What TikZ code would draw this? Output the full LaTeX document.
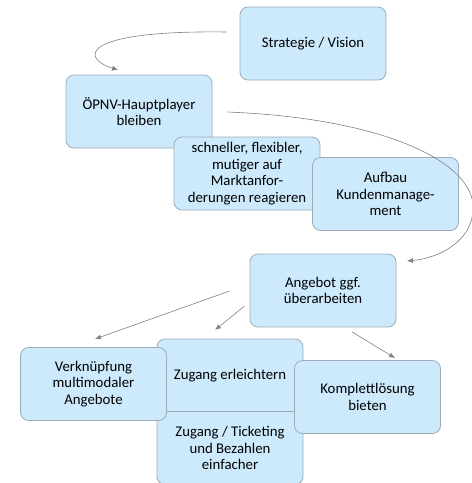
\documentclass[tikz,border=0pt]{standalone}
\usepackage{fontspec}
\setmainfont{Carlito}
\usepackage{xcolor}
\usetikzlibrary{shapes,arrows.meta,positioning,calc}

\definecolor{boxfill}{RGB}{204,234,252}
\definecolor{boxline}{RGB}{158,172,184}
\definecolor{arrowgray}{RGB}{128,128,128}

\begin{document}
\begin{tikzpicture}[x=1pt, y=-1pt,
    block/.style={rectangle, rounded corners=8pt, draw=boxline, line width=0.8pt, fill=boxfill, minimum width=146pt, minimum height=73pt, inner sep=0pt, align=center, font=\fontsize{14.8}{16.7}\selectfont},
    arrow/.style={-{Latex[length=6pt,width=5pt]}, draw=arrowgray, line width=0.6pt}
]
\useasboundingbox (0,0) rectangle (472,483);

% Upper part
\node[block] (strategie) at (313, 43.5) {Strategie / Vision};
\node[block] (oepnv) at (139, 111.5) {ÖPNV-Hauptplayer \\ bleiben};
\node[block] (schneller) at (247, 173.5) {schneller, flexibler, \\ mutiger auf \\ Marktanfor- \\ derungen reagieren};
\node[block] (aufbau) at (385.5, 194) {Aufbau \\ Kundenmanage- \\ ment};

% Offer
\node[block] (angebot) at (323, 290.5) {Angebot ggf. \\ überarbeiten};

% Lower part
\node[block] (zugang) at (230, 375.5) {Zugang erleichtern};
\node[block] (ticketing) at (230, 448) {Zugang / Ticketing \\ und Bezahlen \\ einfacher};
\node[block] (verknuepfung) at (93.5, 384) {Verknüpfung \\ multimodaler \\ Angebote};
\node[block] (komplett) at (367.5, 397) {Komplettlösung \\ bieten};

% Arrows
\coordinate (oepnvin) at (118, 70);
\coordinate (angebotin) at (407, 261);
\coordinate (verkin) at (95, 339);
\coordinate (zugangin) at (215, 330);
\coordinate (komplettin) at (395, 358);
\draw[arrow] ($(strategie.west)+(-13,-11.5)$) .. controls (80,30) and (80,58) .. (oepnvin);
\draw[arrow] ($(oepnv.east)+(15,0.5)$) .. controls (380,118) and (470,160) .. (473,205) .. controls (475,240) and (440,258) .. (angebotin);
\draw[arrow] ($(angebot.west)+(-20,0.5)$) -- (verkin);
\draw[arrow] ($(angebot.west)+(-5,15.5)$) -- (zugangin);
\draw[arrow] ($(angebot.south)+(29,4.5)$) -- (komplettin);

\end{tikzpicture}
\end{document}
